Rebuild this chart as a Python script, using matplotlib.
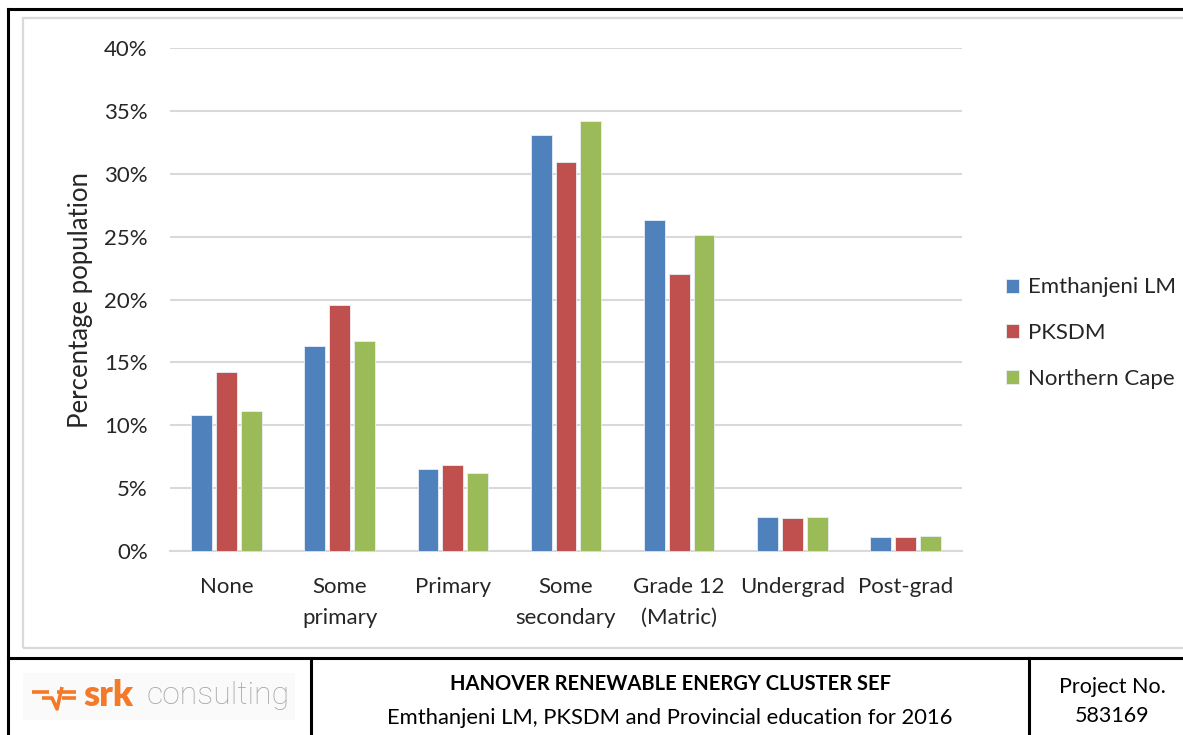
import numpy as np
import matplotlib
matplotlib.use("Agg")
import matplotlib.pyplot as plt
from matplotlib.lines import Line2D
from matplotlib.patches import Rectangle
from matplotlib.ticker import PercentFormatter

plt.rcParams['font.family'] = ['Lato', 'DejaVu Sans']

# education level shares (% of population)
categories = ["None", "Some\nprimary", "Primary", "Some\nsecondary",
              "Grade 12\n(Matric)", "Undergrad", "Post-grad"]
emthanjeni = [10.8, 16.3, 6.5, 33.1, 26.3, 2.7, 1.1]
pksdm = [14.2, 19.6, 6.8, 30.9, 22.0, 2.6, 1.1]
northern_cape = [11.1, 16.7, 6.2, 34.2, 25.1, 2.7, 1.2]
series_names = ["Emthanjeni LM", "PKSDM", "Northern Cape"]
colors = ["#4F81BD", "#C0504D", "#9BBB59"]

W, H = 1183, 735
fig = plt.figure(figsize=(W / 100, H / 100), dpi=100)


def fx(x):
    return x / W


def fy(y):
    return 1 - y / H


ax = fig.add_axes([fx(170), fy(551), fx(962) - fx(170), fy(48) - fy(551)])

x = np.arange(len(categories))
width = 0.185
offsets = [-0.22, 0.0, 0.22]
bars = []
for vals, off, col, name in zip([emthanjeni, pksdm, northern_cape], offsets, colors, series_names):
    b = ax.bar(x + off, vals, width, color=col, edgecolor="#E8EEF6", linewidth=0.6,
               label=name, zorder=3)
    bars.append(b)

ax.set_xlim(-0.5, len(categories) - 0.5)
ax.set_ylim(0, 40)
ax.set_yticks(np.arange(0, 41, 5))
ax.yaxis.set_major_formatter(PercentFormatter(decimals=0))
ax.grid(axis="y", color="#D9D9D9", linewidth=1.5, zorder=0)
for s in ["top", "right", "left"]:
    ax.spines[s].set_visible(False)
ax.spines["bottom"].set_color("#D9D9D9")
ax.spines["bottom"].set_linewidth(1.5)
ax.set_xticks(x)
ax.set_xticklabels(categories, linespacing=1.65)
ax.tick_params(axis="both", length=0, labelsize=16, labelcolor="#262626")
ax.tick_params(axis="x", pad=19)
ax.tick_params(axis="y", pad=16)
ax.set_ylabel("Percentage population", fontsize=18.5, color="#262626", labelpad=8)

fig.legend(handles=bars, labels=series_names, loc="center left",
           bbox_to_anchor=(fx(986), fy(333)), frameon=False, fontsize=16,
           handlelength=0.6, handleheight=0.6, handletextpad=0.4,
           labelspacing=1.15, labelcolor="#262626")

# page frame and footer table
black = dict(color="black", linewidth=2.2, transform=fig.transFigure)
fig.add_artist(Line2D([fx(8), fx(8)], [fy(9), 0], **black))
fig.add_artist(Line2D([fx(8), 1], [fy(9), fy(9)], **black))
fig.add_artist(Line2D([fx(8), 1], [fy(658), fy(658)], **black))
fig.add_artist(Line2D([fx(311), fx(311)], [fy(658), 0], **black))
fig.add_artist(Line2D([fx(1029), fx(1029)], [fy(658), 0], **black))

# chart area border
fig.add_artist(Rectangle((fx(23), fy(648)), 1.0, fy(18) - fy(648), fill=False,
                         edgecolor="#D9D9D9", linewidth=1.6, transform=fig.transFigure))

# logo
fig.add_artist(Rectangle((fx(23), fy(720)), fx(295) - fx(23), fy(673) - fy(720),
                         facecolor="#FAFAFA", edgecolor="none", transform=fig.transFigure))
orange = "#F47A2A"
logo = dict(color=orange, linewidth=2.6, transform=fig.transFigure, solid_capstyle="butt")
fig.add_artist(Line2D([fx(32), fx(49)], [fy(692), fy(692)], **logo))
fig.add_artist(Line2D([fx(57), fx(76)], [fy(692), fy(692)], **logo))
fig.add_artist(Line2D([fx(42), fx(52), fx(57), fx(62)], [fy(698), fy(698), fy(709), fy(687)], **logo))
fig.add_artist(Line2D([fx(62), fx(76)], [fy(698), fy(698)], **logo))
fig.text(fx(83), fy(696), "srk", fontsize=26, fontweight="heavy", color=orange,
         va="center", ha="left")
fig.text(fx(146), fy(696), "consulting", fontsize=23, color="#A6A6A6",
         family="Roboto", fontweight="light", va="center", ha="left")

fig.text(fx(670), fy(684), "HANOVER RENEWABLE ENERGY CLUSTER SEF", fontsize=14.5,
         fontweight="bold", color="black", ha="center", va="center")
fig.text(fx(670), fy(718), "Emthanjeni LM, PKSDM and Provincial education for 2016",
         fontsize=15.8, color="black", ha="center", va="center")
fig.text(fx(1112), fy(687), "Project No.", fontsize=15.5, color="black",
         ha="center", va="center")
fig.text(fx(1112), fy(716), "583169", fontsize=15.5, color="black",
         ha="center", va="center")

fig.savefig("out.png", dpi=100)
